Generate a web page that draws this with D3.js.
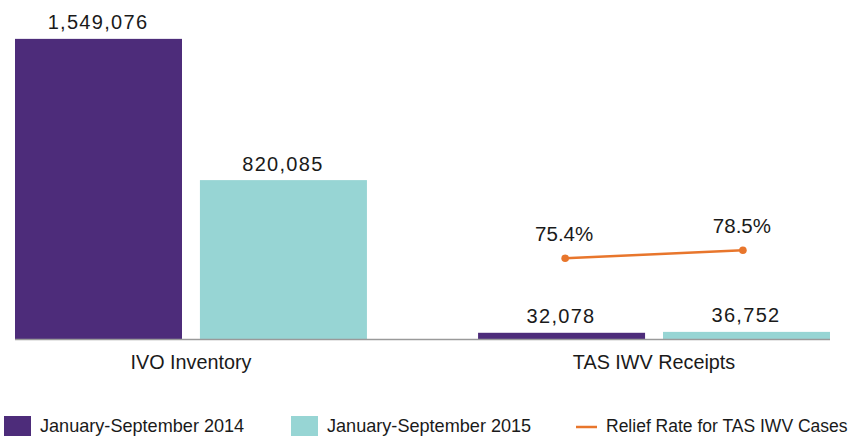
<!DOCTYPE html>
<html>
<head>
<meta charset="utf-8">
<script src="https://cdn.jsdelivr.net/npm/d3@7/dist/d3.min.js"></script>
<style>
  html, body { margin: 0; padding: 0; background: #fff; }
  svg { display: block; }
</style>
</head>
<body>
<svg id="chart" width="853" height="436"></svg>
<script>
// ---- data ----
const categories = ["IVO Inventory", "TAS IWV Receipts"];
const seriesNames = ["January-September 2014", "January-September 2015"];
const values2014 = [1549076, 32078];
const values2015 = [820085, 36752];
const reliefRate = [75.4, 78.5];          // TAS IWV only
const lineName = "Relief Rate for TAS IWV Cases";
const colors = ["#4d2c7a", "#97d5d4"];
const lineColor = "#e8762c";

const svg = d3.select("#chart");

const x0 = d3.scaleBand().domain(categories).range([15, 830]).paddingInner(0.24).paddingOuter(0);
const x1 = d3.scaleBand().domain(seriesNames).range([0, x0.bandwidth()]).paddingInner(0.097).paddingOuter(0);
const y = d3.scaleLinear().domain([0, 1600000]).range([339, 29]);
const yPct = d3.scaleLinear().domain([70, 80]).range([272.2, 246.4]);
const xPt = d3.scalePoint().domain(seriesNames).range([0, x0.bandwidth()]).padding(0.49);

const seriesValues = [values2014, values2015];
const barData = [];
categories.forEach((c, ci) => {
  seriesNames.forEach((s, si) => {
    barData.push({cat: c, series: s, si, value: seriesValues[si][ci]});
  });
});

// bars
svg.append("g").selectAll("rect").data(barData).join("rect")
  .attr("x", d => x0(d.cat) + x1(d.series))
  .attr("y", d => y(d.value))
  .attr("width", x1.bandwidth())
  .attr("height", d => y(0) - y(d.value))
  .attr("fill", d => colors[d.si]);

// baseline
const xr = x0.range();
svg.append("line")
  .attr("x1", xr[0]).attr("x2", xr[1])
  .attr("y1", y(0) + 0.5).attr("y2", y(0) + 0.5)
  .attr("stroke", "#9a9a9a").attr("stroke-width", 1.5);

// value labels
const fmt = d3.format(",");
svg.append("g").selectAll("text").data(barData).join("text")
  .attr("x", d => x0(d.cat) + x1(d.series) + x1.bandwidth() / 2 - 0.5)
  .attr("y", d => y(d.value) - 9.5)
  .attr("text-anchor", "middle")
  .attr("font-family", "Liberation Sans, Arial, sans-serif")
  .attr("font-size", "20px")
  .attr("letter-spacing", "1.3px")
  .attr("fill", "#1a1a1a")
  .text(d => fmt(d.value));

// category labels
svg.append("g").selectAll("text").data(categories).join("text")
  .attr("x", d => x0(d) + x0.bandwidth() / 2)
  .attr("y", 368.5)
  .attr("text-anchor", "middle")
  .attr("font-family", "Liberation Sans, Arial, sans-serif")
  .attr("font-size", "19.8px")
  .attr("fill", "#1a1a1a")
  .text(d => d);

// line
const lineData = seriesNames.map((s, i) => ({series: s, value: reliefRate[i]}));
const lineCat = categories[1];
const line = d3.line()
  .x(d => x0(lineCat) + xPt(d.series))
  .y(d => yPct(d.value));
svg.append("path").datum(lineData)
  .attr("d", line)
  .attr("fill", "none")
  .attr("stroke", lineColor)
  .attr("stroke-width", 2.5);
svg.append("g").selectAll("circle").data(lineData).join("circle")
  .attr("cx", d => x0(lineCat) + xPt(d.series))
  .attr("cy", d => yPct(d.value))
  .attr("r", 3.8)
  .attr("fill", lineColor);
svg.append("g").selectAll("text").data(lineData).join("text")
  .attr("x", d => x0(lineCat) + xPt(d.series) - 1)
  .attr("y", d => yPct(d.value) - 17.3)
  .attr("text-anchor", "middle")
  .attr("font-family", "Liberation Sans, Arial, sans-serif")
  .attr("font-size", "20.5px")
  .attr("fill", "#1a1a1a")
  .text(d => d.value.toFixed(1) + "%");

// legend
const legend = svg.append("g");
const legItems = [
  {name: seriesNames[0], type: "rect", color: colors[0], x: 4, size: 18.1},
  {name: seriesNames[1], type: "rect", color: colors[1], x: 291, size: 18.1},
  {name: lineName, type: "line", color: lineColor, x: 576, size: 17.5}
];
legItems.forEach(it => {
  if (it.type === "rect") {
    legend.append("rect").attr("x", it.x).attr("y", 416).attr("width", 27).attr("height", 20).attr("fill", it.color);
    legend.append("text").attr("x", it.x + 36).attr("y", 432)
      .attr("font-family", "Liberation Sans, Arial, sans-serif").attr("font-size", it.size + "px").attr("fill", "#1a1a1a")
      .text(it.name);
  } else {
    legend.append("line").attr("x1", it.x).attr("x2", it.x + 21).attr("y1", 427).attr("y2", 427)
      .attr("stroke", it.color).attr("stroke-width", 2.5);
    legend.append("text").attr("x", it.x + 30).attr("y", 432)
      .attr("font-family", "Liberation Sans, Arial, sans-serif").attr("font-size", it.size + "px").attr("fill", "#1a1a1a")
      .text(it.name);
  }
});
</script>
</body>
</html>
